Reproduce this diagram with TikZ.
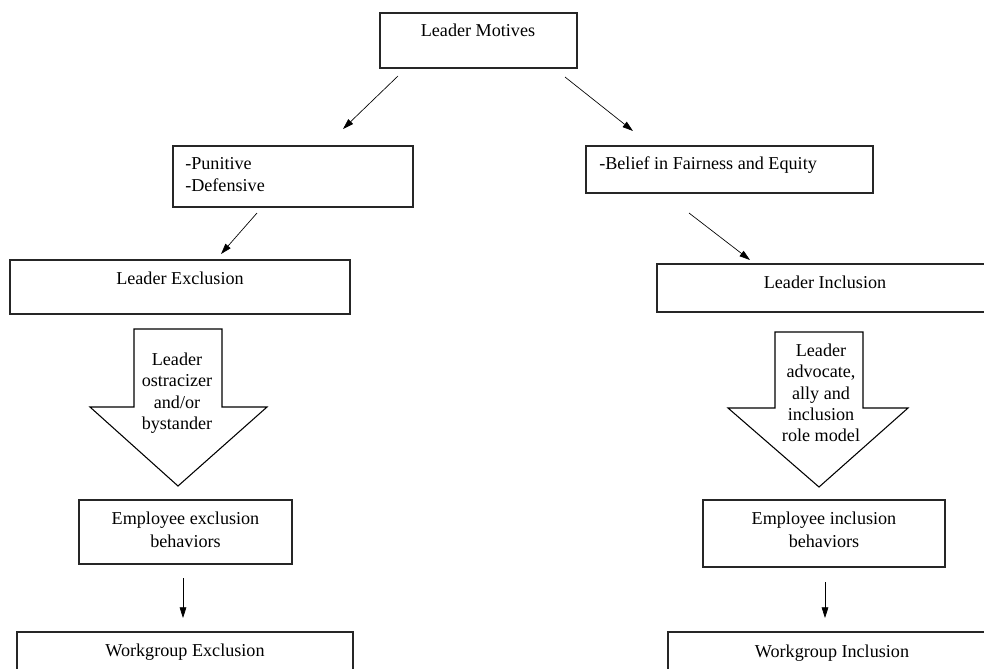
\documentclass[tikz,border=0pt]{standalone}
\usepackage{fontspec}
\setmainfont{Liberation Serif}
\usetikzlibrary{arrows.meta,fit}
\begin{document}
\begin{tikzpicture}[x=0.75pt,y=-0.75pt,
  box/.style={draw=black!85,line width=0.8pt,inner sep=0pt,fit={#1}},
  txt/.style={inner sep=0pt,anchor=base,font=\fontsize{13.6}{16.1}\selectfont},
  ltxt/.style={inner sep=0pt,anchor=base west,font=\fontsize{13.6}{16.1}\selectfont},
  blocktxt/.style={inner sep=0pt,align=center,font=\fontsize{13.6}{16}\selectfont},
  blockarrow/.style={draw=black,line width=0.8pt,line join=miter},
  conn/.style={draw=black,line width=0.5pt,-{Triangle[length=8pt,width=5pt]}}]
\useasboundingbox (0,0) rectangle (984,668);
\clip (0,0) rectangle (984,668);

% boxes
\node[box={(380,13) (577,68)}] (motives) {};
\node[txt] (motivesT) at (478,36) {Leader Motives};

\node[box={(173,146) (413,207)}] (punitive) {};
\node[ltxt] (punitiveT1) at (185,169) {-Punitive};
\node[ltxt] (punitiveT2) at (185,191) {-Defensive};

\node[box={(586,146) (873,193)}] (belief) {};
\node[ltxt] (beliefT) at (599,169) {-Belief in Fairness and Equity};

\node[box={(10,260) (350,314)}] (lexcl) {};
\node[txt] (lexclT) at (180,284) {Leader Exclusion};

\node[box={(657,264) (1000,312)}] (lincl) {};
\node[txt] (linclT) at (825,288) {Leader Inclusion};

\node[box={(79,500) (292,564)}] (eexcl) {};
\node[txt] (eexclT1) at (185.5,524) {Employee exclusion};
\node[txt] (eexclT2) at (185.5,547) {behaviors};

\node[box={(703,500) (945,567)}] (eincl) {};
\node[txt] (einclT1) at (824,524) {Employee inclusion};
\node[txt] (einclT2) at (824,547) {behaviors};

\node[box={(17,632) (353,700)}] (wexcl) {};
\node[txt] (wexclT) at (185,656) {Workgroup Exclusion};

\node[box={(668,632) (1000,700)}] (wincl) {};
\node[txt] (winclT) at (832,657) {Workgroup Inclusion};

% block arrows
\draw[blockarrow] (134,329) -- (222,329) -- (222,407) -- (267,407) -- (178,486)
  -- (90,407) -- (134,407) -- cycle;
\node[blocktxt] (blockL) at (177,393) {Leader\\ostracizer\\and/or\\bystander};

\draw[blockarrow] (775,332) -- (863,332) -- (863,408) -- (908,408) -- (819,487)
  -- (728,408) -- (775,408) -- cycle;
\node[blocktxt] (blockR) at (821,393) {Leader\\advocate,\\ally and\\inclusion\\role model};

% connector ends
\coordinate (a1s) at (398,76);  \coordinate (a1e) at (343,129);
\coordinate (a2s) at (565,77);  \coordinate (a2e) at (633,131);
\coordinate (a3s) at (257,213); \coordinate (a3e) at (221,254);
\coordinate (a4s) at (689,213); \coordinate (a4e) at (750,260);
\coordinate (a5s) at (183,578); \coordinate (a5e) at (183,618);
\coordinate (a6s) at (825,582); \coordinate (a6e) at (825,618);

\draw[conn] (a1s) -- (a1e);
\draw[conn] (a2s) -- (a2e);
\draw[conn] (a3s) -- (a3e);
\draw[conn] (a4s) -- (a4e);
\draw[conn] (a5s) -- (a5e);
\draw[conn] (a6s) -- (a6e);
\end{tikzpicture}
\end{document}
